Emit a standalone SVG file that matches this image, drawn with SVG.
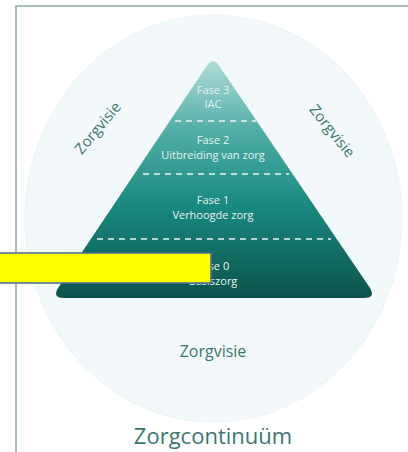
<svg xmlns="http://www.w3.org/2000/svg" width="408" height="452" viewBox="0 0 408 452">
<defs>
<linearGradient id="pg" x1="0" y1="60" x2="0" y2="300" gradientUnits="userSpaceOnUse">
<stop offset="0" stop-color="#b3dcd9"/>
<stop offset="0.3" stop-color="#4fada5"/>
<stop offset="0.6" stop-color="#1a8a80"/>
<stop offset="1" stop-color="#0b5249"/>
</linearGradient>
<style>
.lbl{font-family:"Open Sans","Noto Sans",sans-serif;fill:#3b7770;text-anchor:middle}
.ph{font-family:"Open Sans","Noto Sans",sans-serif;font-size:11px;fill:#e4f2f0;text-anchor:middle}
.dash{stroke:#e6f4f2;stroke-width:1.5;stroke-dasharray:6 5;fill:none}
</style>
</defs>
<rect width="408" height="452" fill="#ffffff"/>
<path d="M16 452 V6 H408" fill="none" stroke="#86a9a6" stroke-width="1.5"/>
<g id="circle">
<ellipse cx="213.5" cy="218.5" rx="188.5" ry="203.5" fill="#f3f9fa" stroke="#e3ecee" stroke-width="1" stroke-dasharray="1 1"/>
<text class="lbl" x="98" y="133" font-size="15" transform="rotate(-50 98 128)">Zorgvisie</text>
<text class="lbl" x="332" y="136" font-size="15" transform="rotate(51 332 131)">Zorgvisie</text>
<text class="lbl" x="213" y="357" font-size="16">Zorgvisie</text>
</g>
<g id="pyramid">
<path d="M206 67 Q213 55 220 67 L370 288 Q376 298 364 298 L64 298 Q52 298 58 288 Z" fill="url(#pg)"/>
<line class="dash" x1="175" y1="121" x2="256" y2="121"/>
<line class="dash" x1="143" y1="174" x2="289" y2="174"/>
<line class="dash" x1="97" y1="239" x2="331" y2="239"/>
</g>
<g id="fase3"><text class="ph" x="213" y="94">Fase 3</text><text class="ph" x="213" y="108">IAC</text></g>
<g id="fase2"><text class="ph" x="213" y="144">Fase 2</text><text class="ph" x="213" y="159">Uitbreiding van zorg</text></g>
<g id="fase1"><text class="ph" x="213" y="204">Fase 1</text><text class="ph" x="213" y="219">Verhoogde zorg</text></g>
<g id="fase0"><text class="ph" x="213" y="270">Fase 0</text><text class="ph" x="213" y="285">Basiszorg</text></g>
<rect id="mask" x="-1" y="253" width="212" height="30" fill="#ffff00" stroke="#4a6a9e" stroke-width="1.5"/>
<text class="lbl" x="213" y="444" font-size="22" fill="#2f6e66">Zorgcontinuüm</text>
</svg>
